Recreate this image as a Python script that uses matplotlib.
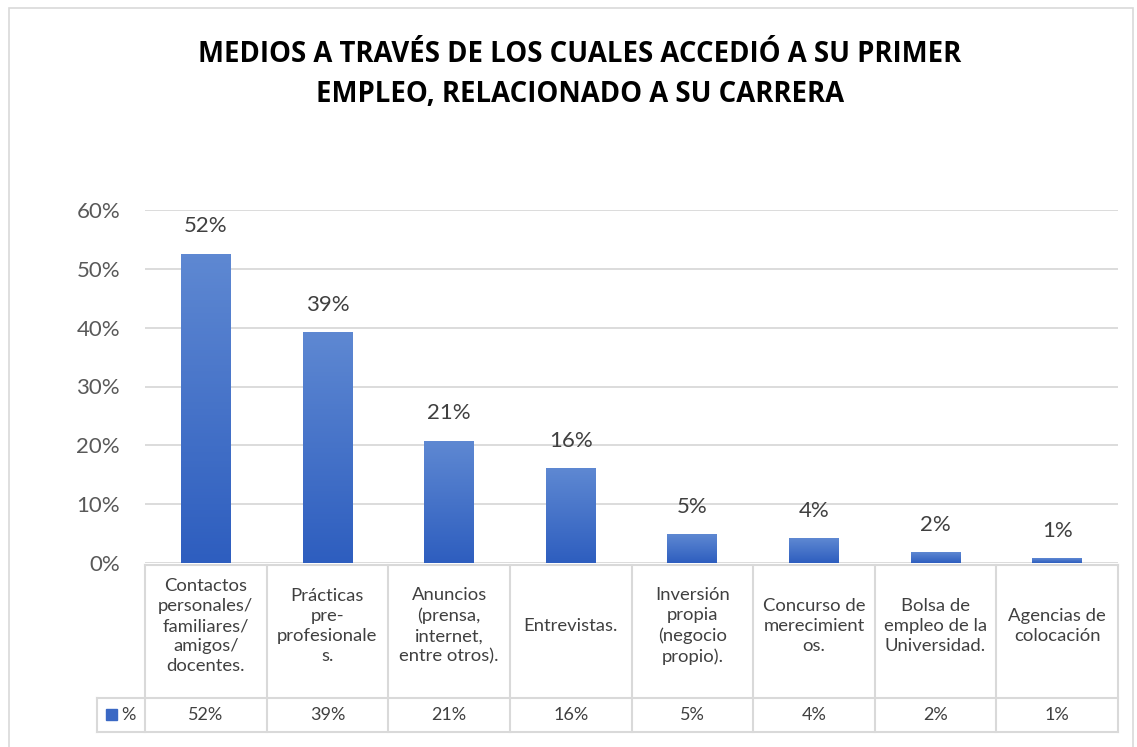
import numpy as np
import matplotlib.pyplot as plt
from matplotlib.colors import LinearSegmentedColormap
from matplotlib.patches import Rectangle
from matplotlib.lines import Line2D

plt.rcParams['font.family'] = ['Lato', 'DejaVu Sans']

titulo = "MEDIOS A TRAVÉS DE LOS CUALES ACCEDIÓ A SU PRIMER\nEMPLEO, RELACIONADO A SU CARRERA"
categorias = [
    "Contactos\npersonales/\nfamiliares/\namigos/\ndocentes.",
    "Prácticas\npre-\nprofesionale\ns.",
    "Anuncios\n(prensa,\ninternet,\nentre otros).",
    "Entrevistas.",
    "Inversión\npropia\n(negocio\npropio).",
    "Concurso de\nmerecimient\nos.",
    "Bolsa de\nempleo de la\nUniversidad.",
    "Agencias de\ncolocación",
]
valores = [0.525, 0.391, 0.207, 0.160, 0.048, 0.041, 0.017, 0.007]
etiquetas = ["52%", "39%", "21%", "16%", "5%", "4%", "2%", "1%"]
serie = "%"
yticks = [0, 0.1, 0.2, 0.3, 0.4, 0.5, 0.6]

W, H = 1137, 747
fig = plt.figure(figsize=(W / 100, H / 100), dpi=100)

def fx(px):
    return px / W

def fy(py):
    return 1 - py / H

# borde del gráfico
fig.add_artist(Rectangle((fx(9), fy(760)), fx(1133) - fx(9), fy(8) - fy(760),
                         transform=fig.transFigure, fill=False, ec='#D9D9D9', lw=1.2))

x_left, x_right = 145, 1118
y_zero, y_top = 563, 210
ax = fig.add_axes([fx(x_left), fy(y_zero), fx(x_right) - fx(x_left), fy(y_top) - fy(y_zero)])

n = len(categorias)
x = np.arange(n)
ancho = 0.41
cmap = LinearSegmentedColormap.from_list('azul', ['#2E5EBF', '#5E88D2'])
grad = np.linspace(0, 1, 100).reshape(-1, 1)
for xi, v, lab in zip(x, valores, etiquetas):
    ax.imshow(grad, extent=[xi - ancho / 2, xi + ancho / 2, 0, v], origin='lower',
              aspect='auto', cmap=cmap, zorder=3)
    ax.text(xi, v + 0.031, lab, ha='center', va='bottom', fontsize=16, color='#404040')

ax.set_xlim(-0.5, n - 0.5)
ax.set_ylim(0, 0.6)
ax.set_yticks(yticks)
ax.set_yticklabels([f"{int(round(t * 100))}%" for t in yticks])
ax.tick_params(axis='y', length=0, labelsize=16, labelcolor='#595959', pad=18)
ax.set_xticks([])
ax.grid(axis='y', color='#D9D9D9', lw=1.3, zorder=0)
for s in ax.spines.values():
    s.set_visible(False)

# tabla de datos
c_line = '#D9D9D9'
bordes = [x_left + i * (x_right - x_left) / n for i in range(n + 1)]
y_t0, y_t1, y_t2 = 565, 698, 732
x_leg = 97

def linea(xs, ys):
    fig.add_artist(Line2D([fx(a) for a in xs], [fy(b) for b in ys],
                          transform=fig.transFigure, color=c_line, lw=1.5))

linea([x_left, x_right], [y_t0, y_t0])
linea([x_leg, x_right], [y_t1, y_t1])
linea([x_leg, x_right], [y_t2, y_t2])
for b in bordes:
    linea([b, b], [y_t0, y_t2])
linea([x_leg, x_leg], [y_t1, y_t2])

for i, cat in enumerate(categorias):
    cx = (bordes[i] + bordes[i + 1]) / 2
    fig.text(fx(cx), fy(626), cat, ha='center', va='center',
             fontsize=13.3, color='#404040', linespacing=1.32)
    fig.text(fx(cx), fy((y_t1 + y_t2) / 2), etiquetas[i], ha='center', va='center',
             fontsize=13, color='#404040')

fig.add_artist(Rectangle((fx(106), fy(720)), fx(117) - fx(106), fy(709) - fy(720),
                         transform=fig.transFigure, color='#3A68C4'))
fig.text(fx(121), fy((y_t1 + y_t2) / 2), serie, ha='left', va='center',
         fontsize=13, color='#404040')

fig.text(fx(580), fy(74), titulo, ha='center', va='center', fontsize=19.8,
         fontweight='bold', color='#000000', linespacing=1.5,
         family=['Open Sans', 'DejaVu Sans'])

fig.savefig('out.png', dpi=100)
